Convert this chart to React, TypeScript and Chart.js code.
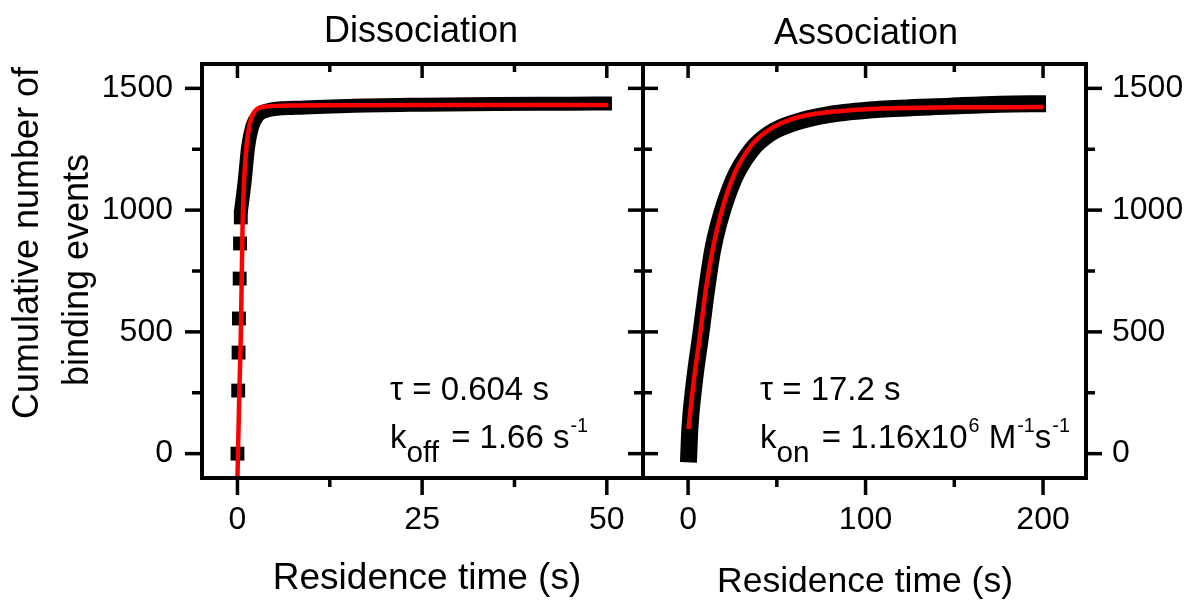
import React, { useEffect, useRef } from "react";
import { Chart, registerables } from "chart.js";
Chart.register(...registerables);

const FONT = '"Liberation Sans", Arial, Helvetica, sans-serif';

// ---------- data ----------
// Dissociation panel (x: residence time s, y: cumulative events)
const dissocSquaresX = [0.0, 0.1, 0.15, 0.2, 0.3, 0.35, 0.45];
const dissocSquaresY = [0, 259, 415, 555, 719, 863, 970];
const dissocBandX = [0.45, 0.99, 1.44, 1.98, 2.79, 4.14, 7.8, 15, 25, 35, 45, 50.7];
const dissocBandY = [990, 1122, 1259, 1341, 1389, 1410, 1420, 1428, 1433, 1436, 1437, 1438];
const dissocFitX = [0, 0.25, 0.45, 0.7, 0.9, 1.22, 1.67, 2.34, 3.7, 7.8, 15, 30, 50.2];
const dissocFitY = [-100, 250, 480, 950, 1122, 1259, 1355, 1405, 1425, 1430, 1431, 1432, 1432];

// Association panel
const assocBandX = [0.2, 1.0, 3.4, 7.2, 10.9, 13.8, 17.0, 25.5, 35.5, 46.2, 60.3, 80, 108, 147.6, 175.8, 201.7];
const assocBandY = [-36, 101, 286, 492, 697, 834, 937, 1122, 1245, 1315, 1360, 1393, 1414, 1427, 1435, 1437];
const assocFitX = [0.2, 3.0, 6.8, 10.5, 16.2, 24.6, 34.9, 45.2, 59.3, 80, 108, 150, 200];
const assocFitY = [101, 286, 492, 697, 917, 1122, 1259, 1328, 1376, 1403, 1417, 1422, 1423];

// ticks
const leftXMajor = [0, 25, 50];
const leftXMinor = [12.5, 37.5];
const rightXMajor = [0, 100, 200];
const rightXMinor = [50, 150];
const yMajor = [0, 500, 1000, 1500];
const yMinor = [250, 750, 1250];

// axis ranges
const leftXRange = [-4.8, 54.9];
const rightXRange = [-25.4, 224.2];
const yRange = [-100, 1600];

// texts
const titleLeft = "Dissociation";
const titleRight = "Association";
const xTitle = "Residence time (s)";
const yTitleLines = ["Cumulative number of", "binding events"];

type Seg = { t: string; k?: "sub" | "sup" };
const annLeft1: Seg[] = [{ t: "τ = 0.604 s" }];
const annLeft2: Seg[] = [{ t: "k" }, { t: "off", k: "sub" }, { t: " = 1.66 s" }, { t: "-1", k: "sup" }];
const annRight1: Seg[] = [{ t: "τ = 17.2 s" }];
const annRight2: Seg[] = [
  { t: "k" }, { t: "on", k: "sub" }, { t: " = 1.16x10" }, { t: "6", k: "sup" },
  { t: " M" }, { t: "-1", k: "sup" }, { t: "s" }, { t: "-1", k: "sup" },
];

const W = 1191;
const H = 602;
const AREA_TOP = 64;
const AREA_BOTTOM = 478;
const MID = 643;
const LEFT_EDGE = 202;
const RIGHT_EDGE = 1086;

function pts(xs: number[], ys: number[]) {
  return xs.map((x, i) => ({ x, y: ys[i] }));
}

function drawRich(ctx: CanvasRenderingContext2D, x: number, y: number, segs: Seg[], size: number) {
  let cx = x;
  ctx.textAlign = "left";
  ctx.textBaseline = "alphabetic";
  let prev: string | undefined = undefined;
  for (const s of segs) {
    const sz = s.k === "sub" ? size * 0.9 : s.k === "sup" ? size * 0.6 : size;
    ctx.font = `${sz}px ${FONT}`;
    if (prev === "sub") cx += 3;
    if (s.k === "sup") cx += 1;
    const dy = s.k === "sub" ? 14 : s.k === "sup" ? -16 : 0;
    ctx.fillText(s.t, cx, y + dy);
    cx += ctx.measureText(s.t).width;
    prev = s.k;
  }
}

function line(ctx: CanvasRenderingContext2D, x1: number, y1: number, x2: number, y2: number) {
  ctx.beginPath();
  ctx.moveTo(x1, y1);
  ctx.lineTo(x2, y2);
  ctx.stroke();
}

function makeDecor(side: "left" | "right") {
  return {
    id: "decor_" + side,
    afterDatasetsDraw(chart: any) {
      const ctx: CanvasRenderingContext2D = chart.ctx;
      const a = chart.chartArea;
      const xs = chart.scales.x;
      const ys = chart.scales.y;
      const xMaj = side === "left" ? leftXMajor : rightXMajor;
      const xMin = side === "left" ? leftXMinor : rightXMinor;
      ctx.save();
      ctx.strokeStyle = "#000";
      ctx.fillStyle = "#000";
      ctx.lineCap = "butt";
      // ticks
      ctx.lineWidth = 3.5;
      for (const v of xMaj) {
        const p = xs.getPixelForValue(v);
        line(ctx, p, a.bottom, p, a.bottom + 17);
        line(ctx, p, a.top, p, a.top + 14);
      }
      for (const v of xMin) {
        const p = xs.getPixelForValue(v);
        line(ctx, p, a.bottom, p, a.bottom + 9);
        line(ctx, p, a.top, p, a.top + 8);
      }
      for (const v of yMajor) {
        const p = ys.getPixelForValue(v);
        if (side === "left") {
          line(ctx, a.left - 17, p, a.left, p);
          line(ctx, a.right - 15, p, a.right, p);
        } else {
          line(ctx, a.left, p, a.left + 15, p);
          line(ctx, a.right, p, a.right + 16, p);
        }
      }
      for (const v of yMinor) {
        const p = ys.getPixelForValue(v);
        if (side === "left") {
          line(ctx, a.left - 10, p, a.left, p);
          line(ctx, a.right - 9, p, a.right, p);
        } else {
          line(ctx, a.left, p, a.left + 9, p);
          line(ctx, a.right, p, a.right + 9, p);
        }
      }
      // frame
      ctx.lineWidth = 4;
      ctx.lineJoin = "miter";
      ctx.strokeRect(a.left, a.top, a.right - a.left, a.bottom - a.top);

      // texts
      ctx.textAlign = "center";
      ctx.textBaseline = "alphabetic";
      if (side === "left") {
        ctx.font = `36px ${FONT}`;
        ctx.fillText(titleLeft, 421, 42);
        ctx.font = `37px ${FONT}`;
        ctx.fillText(xTitle, 427, 589);
        // y title
        ctx.font = `36px ${FONT}`;
        ctx.save();
        ctx.translate(38, 243);
        ctx.rotate(-Math.PI / 2);
        ctx.fillText(yTitleLines[0], 0, 0);
        ctx.restore();
        ctx.save();
        ctx.translate(88, 270);
        ctx.rotate(-Math.PI / 2);
        ctx.fillText(yTitleLines[1], 0, 0);
        ctx.restore();
        drawRich(ctx, 390, 400, annLeft1, 33);
        drawRich(ctx, 390, 448, annLeft2, 33);
      } else {
        ctx.font = `36px ${FONT}`;
        ctx.fillText(titleRight, 866, 44);
        ctx.font = `35.5px ${FONT}`;
        ctx.fillText(xTitle, 865, 592);
        drawRich(ctx, 760, 400, annRight1, 33);
        drawRich(ctx, 760, 448, annRight2, 33);
      }
      ctx.restore();
    },
  };
}

function zeroPad(scale: any) {
  scale.paddingLeft = 0;
  scale.paddingRight = 0;
  scale.paddingTop = 0;
  scale.paddingBottom = 0;
}

function buildConfig(side: "left" | "right"): any {
  const isL = side === "left";
  const datasets: any[] = [];
  datasets.push({
    label: "fit",
    data: isL ? pts(dissocFitX, dissocFitY) : pts(assocFitX, assocFitY),
    borderColor: "#ff0000",
    borderWidth: 4.5,
    pointRadius: 0,
    cubicInterpolationMode: "monotone",
    borderCapStyle: "butt",
    borderJoinStyle: "round",
    fill: false,
  });
  datasets.push({
    label: "data",
    data: isL ? pts(dissocBandX, dissocBandY) : pts(assocBandX, assocBandY),
    borderColor: "#000",
    borderWidth: isL ? 14 : 17,
    pointRadius: 0,
    cubicInterpolationMode: "monotone",
    borderCapStyle: "butt",
    borderJoinStyle: "round",
    fill: false,
  });
  if (isL) {
    datasets.push({
      label: "data-low",
      data: pts(dissocSquaresX, dissocSquaresY),
      showLine: false,
      pointStyle: "rect",
      pointRadius: 9.8,
      pointBackgroundColor: "#000",
      pointBorderColor: "#000",
      pointBorderWidth: 0,
    });
  }
  const tickFont = { family: FONT, size: 32 };
  return {
    type: "line",
    data: { datasets },
    options: {
      responsive: false,
      animation: false,
      events: [],
      layout: {
        padding: isL
          ? { left: 0, right: W - MID, top: AREA_TOP, bottom: 0 }
          : { left: MID, right: 0, top: AREA_TOP, bottom: 0 },
      },
      plugins: { legend: { display: false }, tooltip: { enabled: false }, title: { display: false } },
      scales: {
        x: {
          type: "linear",
          position: "bottom",
          min: isL ? leftXRange[0] : rightXRange[0],
          max: isL ? leftXRange[1] : rightXRange[1],
          afterBuildTicks: (s: any) => {
            s.ticks = (isL ? leftXMajor : rightXMajor).map((v) => ({ value: v }));
          },
          afterFit: (s: any) => {
            s.height = H - AREA_BOTTOM;
            zeroPad(s);
          },
          ticks: {
            font: tickFont,
            color: "#000",
            padding: 23,
            maxRotation: 0,
            autoSkip: false,
            callback: (v: any) => String(v),
          },
          grid: { display: false, drawTicks: false },
          border: { display: false },
        },
        y: {
          type: "linear",
          position: isL ? "left" : "right",
          min: yRange[0],
          max: yRange[1],
          afterBuildTicks: (s: any) => {
            s.ticks = yMajor.map((v) => ({ value: v }));
          },
          afterFit: (s: any) => {
            s.width = isL ? LEFT_EDGE : W - RIGHT_EDGE;
            zeroPad(s);
          },
          ticks: {
            font: tickFont,
            color: "#000",
            padding: isL ? 29 : 26,
            autoSkip: false,
            callback: (v: any) => String(v),
          },
          grid: { display: false, drawTicks: false },
          border: { display: false },
        },
      },
    },
    plugins: [makeDecor(side)],
  };
}

export default function App() {
  const leftRef = useRef<HTMLCanvasElement>(null);
  const rightRef = useRef<HTMLCanvasElement>(null);
  useEffect(() => {
    const c1 = new Chart(leftRef.current as HTMLCanvasElement, buildConfig("left"));
    const c2 = new Chart(rightRef.current as HTMLCanvasElement, buildConfig("right"));
    return () => {
      c1.destroy();
      c2.destroy();
    };
  }, []);
  const cs: React.CSSProperties = { position: "absolute", left: 0, top: 0, width: W, height: H };
  return (
    <div style={{ position: "absolute", left: 0, top: 0, width: W, height: H, background: "#fff" }}>
      <canvas ref={leftRef} width={W} height={H} style={cs} />
      <canvas ref={rightRef} width={W} height={H} style={cs} />
    </div>
  );
}
